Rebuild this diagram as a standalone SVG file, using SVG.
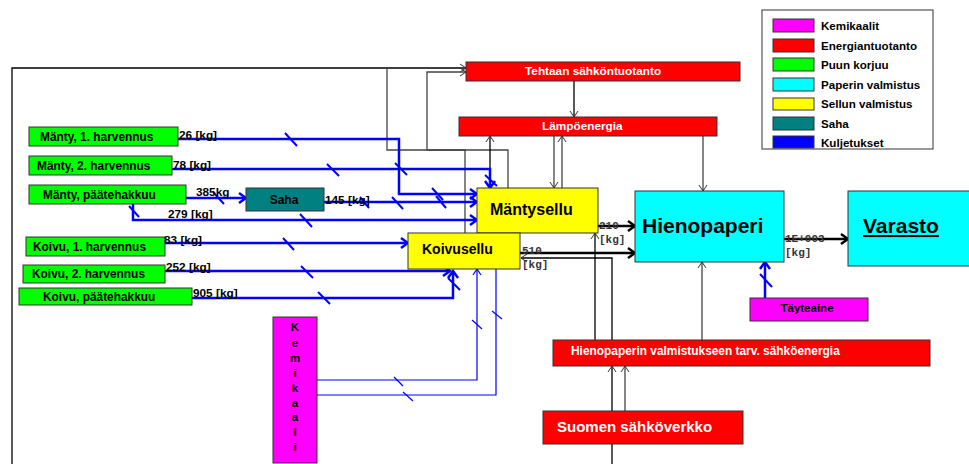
<svg xmlns="http://www.w3.org/2000/svg" width="969" height="464" viewBox="0 0 969 464">
<defs>
<style>
.bx{stroke:#333;stroke-width:1}
.t{font-family:"Liberation Sans",Arial,sans-serif;font-weight:bold;fill:#000}
.w{fill:#fff}
.m{font-family:"Liberation Mono","Courier New",monospace;font-weight:bold;font-size:11px;fill:#333}
.g{fill:none;stroke:#444;stroke-width:1.3}
.k{fill:none;stroke:#000;stroke-width:1.3}
.kk{fill:none;stroke:#000;stroke-width:2.5}
.b{fill:none;stroke:#0000ff;stroke-width:2.5}
.bt{fill:none;stroke:#0000ff;stroke-width:1.2}
.tk{stroke:#0000ff;stroke-width:2}
.tt{stroke:#0000ff;stroke-width:1.2}
</style>
<marker id="ag" markerUnits="userSpaceOnUse" markerWidth="12" markerHeight="12" refX="10" refY="6" orient="auto"><path d="M4,2 L10,6 L4,10" fill="none" stroke="#333" stroke-width="1"/></marker>
<marker id="ak" markerUnits="userSpaceOnUse" markerWidth="14" markerHeight="14" refX="12" refY="7" orient="auto"><path d="M5,2 L12,7 L5,12" fill="none" stroke="#000" stroke-width="2.5"/></marker>
<marker id="ab" markerUnits="userSpaceOnUse" markerWidth="14" markerHeight="14" refX="12" refY="7" orient="auto"><path d="M5,2 L12,7 L5,12" fill="none" stroke="#0000ff" stroke-width="2.5"/></marker>
<marker id="abt" markerUnits="userSpaceOnUse" markerWidth="12" markerHeight="12" refX="10" refY="6" orient="auto"><path d="M4,2 L10,6 L4,10" fill="none" stroke="#0000ff" stroke-width="1.2"/></marker>
</defs>
<rect width="969" height="464" fill="#fff"/>

<g id="connectors">
<path class="k" d="M12,464 V68 H466" marker-end="url(#ag)"/>
<path class="g" d="M508,188 V150 H387 V68"/>
<path class="g" d="M465,233 V150 H427 V72 H466" marker-end="url(#ag)"/>
<path class="k" d="M574,81 V117" marker-end="url(#ag)"/>
<path class="k" d="M490,188 V136" stroke-width="2" marker-end="url(#ag)"/>
<path class="g" d="M554,136 V188" marker-end="url(#ag)"/>
<path class="g" d="M562,188 V136" marker-end="url(#ag)"/>
<path class="g" d="M703,136 V191" marker-end="url(#ag)"/>
<path class="g" d="M702,340 V262" marker-end="url(#ag)"/>
<path class="k" d="M595,340 V233" marker-end="url(#ag)"/>
<path class="k" d="M612,340 V258 H521" marker-end="url(#ag)"/>
<path class="k" d="M612,464 V366" marker-end="url(#ag)"/>
<path class="g" d="M625,411 V366" marker-end="url(#ag)"/>

<path class="kk" d="M598,226 H635" marker-end="url(#ak)"/>
<path class="kk" d="M520,253 H635" marker-end="url(#ak)"/>
<path class="kk" d="M784,239 H848" marker-end="url(#ak)"/>

<path class="b" d="M178,139 H399 V194 H477" marker-end="url(#ab)"/>
<path class="b" d="M172,169 H490 V188" marker-end="url(#ab)"/>
<path class="b" d="M186,198 H246" marker-end="url(#ab)"/>
<path class="b" d="M324,202 H477" marker-end="url(#ab)"/>
<path class="b" d="M133,204 V220 H477" marker-end="url(#ab)"/>
<path class="b" d="M165,243 H408" marker-end="url(#ab)"/>
<path class="b" d="M165,271 H450" marker-end="url(#ab)"/>
<path class="b" d="M192,298 H453 V271" marker-end="url(#ab)"/>
<path class="bt" d="M317,380 H477 V269" marker-end="url(#abt)"/>
<path class="bt" d="M317,395 H496 V269"/>
<path class="b" d="M765,298 V262" marker-end="url(#ab)"/>

<g class="tk">
<line x1="285" y1="133" x2="297" y2="146"/>
<line x1="327" y1="164" x2="339" y2="176"/>
<line x1="395" y1="163" x2="407" y2="175"/>
<line x1="485" y1="175" x2="497" y2="186"/>
<line x1="213" y1="192" x2="224" y2="204"/>
<line x1="360" y1="197" x2="369" y2="208"/>
<line x1="392" y1="197" x2="403" y2="209"/>
<line x1="432" y1="188" x2="443" y2="200"/>
<line x1="436" y1="196" x2="446" y2="208"/>
<line x1="129" y1="206" x2="139" y2="217"/>
<line x1="300" y1="214" x2="312" y2="227"/>
<line x1="283" y1="238" x2="294" y2="250"/>
<line x1="301" y1="266" x2="313" y2="278"/>
<line x1="318" y1="292" x2="330" y2="304"/>
<line x1="448" y1="278" x2="460" y2="290"/>
<line x1="760" y1="274" x2="772" y2="287"/>
</g>
<g class="tt">
<line x1="394" y1="377" x2="403" y2="386"/>
<line x1="403" y1="392" x2="413" y2="401"/>
<line x1="472" y1="320" x2="482" y2="329"/>
<line x1="492" y1="311" x2="502" y2="319"/>
</g>
</g>

<g id="legend">
<rect x="762" y="10" width="171" height="139" fill="#fff" class="bx"/>
<rect x="773" y="19" width="41" height="13" fill="#ff00ff" class="bx"/>
<rect x="773" y="39" width="41" height="13" fill="#ff0000" class="bx"/>
<rect x="773" y="58" width="41" height="13" fill="#00ff00" class="bx"/>
<rect x="773" y="78" width="41" height="13" fill="#00ffff" class="bx"/>
<rect x="773" y="98" width="41" height="12" fill="#ffff00" class="bx"/>
<rect x="773" y="117" width="41" height="13" fill="#008080" class="bx"/>
<rect x="773" y="136" width="41" height="12" fill="#0000ff" class="bx"/>
<g class="t" font-size="11.6">
<text x="821" y="30">Kemikaalit</text>
<text x="821" y="50">Energiantuotanto</text>
<text x="821" y="69">Puun korjuu</text>
<text x="821" y="89">Paperin valmistus</text>
<text x="821" y="108">Sellun valmistus</text>
<text x="821" y="128">Saha</text>
<text x="821" y="147">Kuljetukset</text>
</g>
</g>

<g id="tehtaan">
<rect x="466" y="62" width="274" height="19" fill="#ff0000" class="bx"/>
<text x="525" y="75" class="t w" font-size="11.8">Tehtaan sähköntuotanto</text>
</g>
<g id="lampo">
<rect x="459" y="117" width="258" height="19" fill="#ff0000" class="bx"/>
<text x="542" y="130" class="t w" font-size="11.8">Lämpöenergia</text>
</g>
<g id="mantysellu">
<rect x="477" y="188" width="121" height="45" fill="#ffff00" class="bx"/>
<text x="490" y="215" class="t" font-size="16">Mäntysellu</text>
</g>
<g id="koivusellu">
<rect x="408" y="233" width="112" height="36" fill="#ffff00" class="bx"/>
<text x="422" y="254" class="t" font-size="14">Koivusellu</text>
</g>
<g id="hienopaperi">
<rect x="635" y="191" width="149" height="71" fill="#00ffff" class="bx"/>
<text x="642" y="233" class="t" font-size="21">Hienopaperi</text>
</g>
<g id="varasto">
<rect x="848" y="191" width="126" height="75" fill="#00ffff" class="bx"/>
<text x="863" y="233" class="t" font-size="21" text-decoration="underline">Varasto</text>
</g>
<g id="tayteaine">
<rect x="750" y="298" width="118" height="23" fill="#ff00ff" class="bx"/>
<text x="807" y="312" class="t" font-size="11.5" text-anchor="middle">Täyteaine</text>
</g>
<g id="hienovalm">
<rect x="553" y="340" width="377" height="26" fill="#ff0000" class="bx"/>
<text x="571" y="355" class="t w" font-size="11.9">Hienopaperin valmistukseen tarv. sähköenergia</text>
</g>
<g id="suomen">
<rect x="543" y="411" width="200" height="33" fill="#ff0000" class="bx"/>
<text x="557" y="432" class="t w" font-size="15">Suomen sähköverkko</text>
</g>
<g id="saha">
<rect x="246" y="188" width="78" height="23" fill="#008080" class="bx"/>
<text x="284" y="204" class="t" font-size="12" text-anchor="middle">Saha</text>
</g>
<g id="kemikaali">
<rect x="273" y="317" width="44" height="146" fill="#ff00ff" class="bx"/>
<g class="t" font-size="11.5" text-anchor="middle">
<text x="295" y="331">K</text>
<text x="295" y="347">e</text>
<text x="295" y="362">m</text>
<text x="295" y="377">i</text>
<text x="295" y="392">k</text>
<text x="295" y="407">a</text>
<text x="295" y="421">a</text>
<text x="295" y="436">l</text>
<text x="295" y="451">i</text>
</g>
</g>
<g id="manty1">
<rect x="29" y="127" width="149" height="19" fill="#00ff00" class="bx"/>
<text x="40" y="141" class="t" font-size="11.9">Mänty, 1. harvennus</text>
</g>
<g id="manty2">
<rect x="29" y="156" width="143" height="19" fill="#00ff00" class="bx"/>
<text x="37" y="170" class="t" font-size="11.9">Mänty, 2. harvennus</text>
</g>
<g id="manty3">
<rect x="29" y="185" width="157" height="19" fill="#00ff00" class="bx"/>
<text x="43" y="199" class="t" font-size="11.9">Mänty, päätehakkuu</text>
</g>
<g id="koivu1">
<rect x="26" y="237" width="139" height="19" fill="#00ff00" class="bx"/>
<text x="33" y="251" class="t" font-size="11.9">Koivu, 1. harvennus</text>
</g>
<g id="koivu2">
<rect x="23" y="265" width="142" height="18" fill="#00ff00" class="bx"/>
<text x="32" y="278" class="t" font-size="11.9">Koivu, 2. harvennus</text>
</g>
<g id="koivu3">
<rect x="19" y="288" width="173" height="17" fill="#00ff00" class="bx"/>
<text x="43" y="301" class="t" font-size="11.9">Koivu, päätehakkuu</text>
</g>

<g id="labels" class="t" font-size="11.8">
<text x="179" y="139">26 [kg]</text>
<text x="173" y="169">78 [kg]</text>
<text x="196" y="196">385kg</text>
<text x="325" y="204">145 [kg]</text>
<text x="168" y="218">279 [kg]</text>
<text x="164" y="244">83 [kg]</text>
<text x="166" y="271">252 [kg]</text>
<text x="193" y="297">905 [kg]</text>
</g>
<g id="mono" class="m">
<text x="599" y="229">210</text>
<text x="599" y="243">[kg]</text>
<text x="522" y="254">510</text>
<text x="522" y="268">[kg]</text>
<text x="785" y="242">1E+003</text>
<text x="785" y="256">[kg]</text>
</g>
</svg>
